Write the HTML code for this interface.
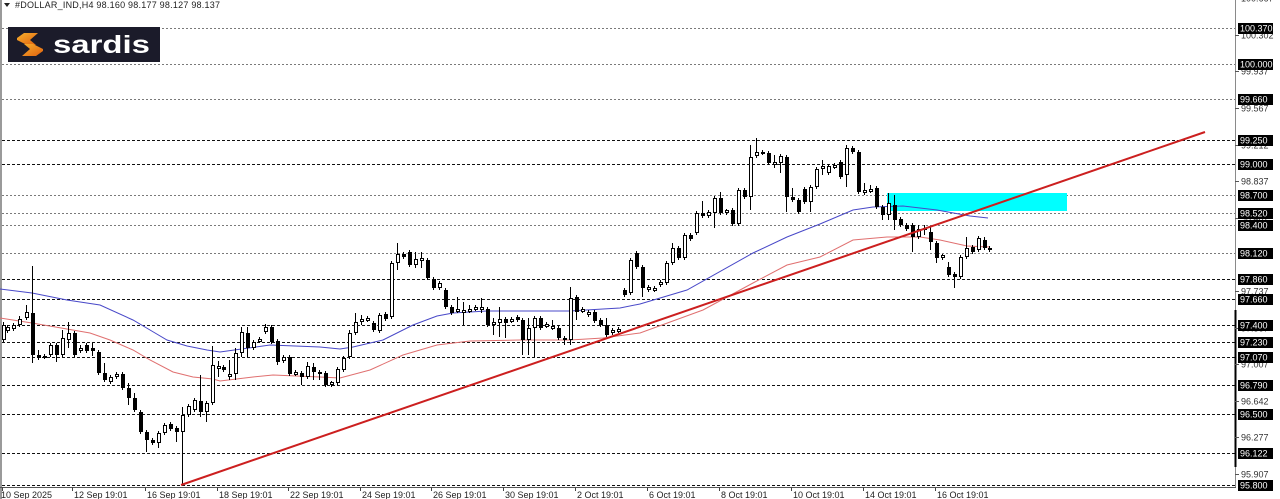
<!DOCTYPE html>
<html><head><meta charset="utf-8">
<style>
html,body{margin:0;padding:0;background:#fff;}
svg{display:block;}
text{font-family:"Liberation Sans",sans-serif;}
</style></head>
<body>
<svg id="c" xmlns="http://www.w3.org/2000/svg" width="1280" height="499" viewBox="0 0 1280 499">
<rect x="0" y="0" width="1280" height="499" fill="#fff"/>
<rect x="0" y="0" width="2" height="499" fill="#9a9a9a"/>
<g id="grid"></g>
<!-- cyan zone -->
<rect x="887" y="193" width="180" height="18" fill="#00ffff"/>
<!-- MAs -->
<polyline fill="none" stroke="#4848c8" stroke-width="1" points="0,289 32,293 67,300 100,305 133,320 150,330 167,340 187,346 207,350 220,352 270,345 320,347 340,349 353,347 383,340 413,325 437,316 453,313 487,311 520,311 570,311 603,309 620,308 640,304 687,290 753,253 787,237 820,224 853,210 873,207 903,206 937,210 970,216 988,218"/>
<polyline fill="none" stroke="#e07070" stroke-width="1" points="0,318 32,323 67,329 90,333 110,340 133,350 150,360 173,372 193,377 213,379 220,381 253,377 273,375 320,377 340,378 370,370 403,355 437,345 470,341 520,340 570,340 603,338 640,333 703,310 753,283 787,265 820,257 853,240 887,237 920,237 940,240 967,246 990,247"/>
<g id="candles" shape-rendering="crispEdges"></g>
<!-- trend line -->
<line x1="181" y1="485" x2="1205" y2="132" stroke="#cc1f1f" stroke-width="2"/>
<!-- axes -->
<line x1="1235.5" y1="0" x2="1235.5" y2="487" stroke="#8a8a8a" stroke-width="1"/>
<line x1="1235.5" y1="310" x2="1235.5" y2="467" stroke="#000" stroke-width="2"/>
<line x1="0" y1="487.5" x2="1236" y2="487.5" stroke="#555" stroke-width="1"/>
<g id="yax"></g>
<g id="xax"></g>
<!-- header -->
<polygon points="4,3 10,3 7,7" fill="#222"/>
<text x="15" y="8" font-size="9" fill="#222" textLength="205" lengthAdjust="spacing">#DOLLAR_IND,H4  98.160 98.177 98.127 98.137</text>
<!-- logo -->
<rect x="8" y="27" width="152" height="35" fill="#1b1b2a"/>
<defs>
<linearGradient id="og" x1="0" y1="0" x2="1" y2="1">
<stop offset="0" stop-color="#f7b12e"/><stop offset="1" stop-color="#e0600e"/>
</linearGradient>
</defs>
<polygon points="17,38 24,33 38,33 30,40 36,45 27,45 17,40" fill="url(#og)"/>
<polygon points="43,51 36,56 22,56 30,49 24,44 33,44 43,49" fill="url(#og)"/>
<text x="53" y="53" font-size="25" font-weight="bold" fill="#fff" textLength="97" lengthAdjust="spacingAndGlyphs">sardis</text>
</svg>
<script>
(function(){
var NS="http://www.w3.org/2000/svg";
function el(tag,attrs,parent,txt){var e=document.createElementNS(NS,tag);for(var k in attrs)e.setAttribute(k,attrs[k]);if(txt!==undefined)e.textContent=txt;parent.appendChild(e);return e;}
var grid=document.getElementById('grid');
var grey=[28,64,99,195,213,225,253];
var black=[140,164,279,299,325,342,357,385,414,453,485];
grey.forEach(function(y){el('line',{x1:2,y1:y+0.5,x2:1235,y2:y+0.5,stroke:'#7a7a7a','stroke-width':1,'stroke-dasharray':'2,2'},grid);});
black.forEach(function(y){el('line',{x1:2,y1:y+0.5,x2:1235,y2:y+0.5,stroke:'#111','stroke-width':1,'stroke-dasharray':'3,2'},grid);});

var C=[
[3,'w',325,340,322,342],[7,'w',327,331,325,333],[13,'w',325,329,323,331],[19,'w',319,325,316,327],[26,'w',312,318,305,320],
[32,'b',313,355,266,363],[38,'b',355,358,350,360],[44,'b',356,358,354,359],[50,'w',345,355,343,357],[56,'b',345,355,343,362],
[62,'w',338,355,330,357],[68,'w',333,340,322,348],[74,'b',333,355,331,357],[80,'w',348,351,345,353],[86,'b',345,351,343,353],
[92,'b',348,351,343,356],[98,'b',352,373,350,375],[104,'b',373,380,363,382],[110,'w',377,382,375,384],[116,'w',374,377,372,379],
[122,'b',374,388,372,390],[128,'b',388,398,383,405],[134,'b',398,410,393,412],[140,'b',412,432,410,434],[146,'b',432,440,430,452],
[152,'b',440,443,438,445],[158,'w',433,443,431,448],[164,'w',425,433,423,435],[170,'b',424,429,422,431],[176,'b',428,432,426,442],
[182,'w',415,432,407,485],[188,'w',406,415,404,417],[194,'w',400,410,398,412],[200,'b',401,412,375,417],[206,'w',403,412,401,422],
[212,'w',365,403,346,405],[218,'w',366,369,361,377],
[223,'b',367,370,365,372],[229,'w',374,377,360,380],[235,'w',353,374,348,380],[241,'w',332,353,327,357],[247,'b',333,348,327,357],
[253,'w',342,348,340,350],[259,'w',339,342,337,343],[265,'w',327,332,324,334],[271,'b',327,342,325,344],[277,'b',341,362,339,365],
[283,'w',357,361,355,363],[289,'b',357,374,355,376],[295,'w',372,375,370,376],[301,'b',373,377,371,385],[307,'w',366,377,362,379],
[313,'b',367,372,363,380],[319,'b',372,374,370,380],[325,'b',373,385,371,387],[331,'w',382,385,381,387],[337,'w',369,383,367,385],
[343,'w',358,370,356,372],[349,'w',333,357,330,359],[355,'w',322,333,313,335],[361,'w',319,322,315,325],[367,'w',318,321,316,322],
[373,'b',323,330,321,332],[379,'w',315,331,313,333],[385,'b',314,319,312,321],[391,'w',263,317,261,319],[397,'w',254,263,243,270],
[403,'b',254,257,252,259],[409,'b',252,265,250,267],[415,'w',259,265,252,268],[421,'w',258,261,252,268],[427,'b',260,278,258,280],
[433,'b',279,288,277,290],[439,'w',283,288,281,290],[445,'b',290,307,288,309],[451,'b',307,313,305,315],[457,'w',309,312,297,313],
[463,'w',310,313,302,325],[469,'w',309,312,305,313],[475,'w',307,310,305,311],[481,'w',307,310,298,313],[487,'b',309,325,307,327],
[493,'w',322,325,318,335],[499,'w',319,323,307,337],[505,'b',319,323,317,338],[511,'w',319,322,317,323],[517,'b',317,320,315,322],
[522,'b',320,340,318,355],[528,'w',328,340,318,355],[534,'w',318,328,316,357],[540,'b',318,328,316,330],[546,'w',324,327,322,328],
[552,'w',326,329,320,330],[558,'b',328,338,326,340],[564,'b',338,340,336,345],[570,'w',298,340,287,345],[576,'b',297,312,295,320],
[582,'w',309,312,307,313],[588,'w',312,315,310,317],[594,'b',312,321,310,323],[600,'b',320,325,318,327],[606,'b',325,335,318,337],
[612,'w',330,333,328,335],[618,'w',329,332,327,333],
[624,'b',290,295,288,297],[630,'w',260,293,258,295],[636,'b',253,267,251,269],[642,'b',267,288,265,297],[648,'w',287,290,285,292],
[654,'w',288,291,286,292],[660,'w',282,285,280,287],[666,'w',263,283,261,285],[672,'w',248,263,243,265],[678,'b',248,258,246,260],
[684,'w',235,258,233,260],[690,'b',235,239,233,241],[696,'w',213,233,211,235],[702,'b',213,216,201,218],[708,'w',212,216,210,218],
[714,'w',198,213,196,228],[720,'b',198,213,192,215],[726,'w',210,213,209,215],[732,'b',210,224,208,226],[738,'w',190,224,188,226],
[744,'b',190,197,188,199],[750,'w',157,197,145,210],[756,'w',152,156,138,158],[762,'b',152,154,150,155],[768,'b',153,163,151,165],
[774,'w',162,165,155,168],[780,'w',156,163,154,173],[786,'b',157,197,155,212],[792,'b',197,200,188,202],[798,'b',200,212,198,214],
[804,'b',189,202,187,204],[810,'w',187,202,185,212],[816,'w',169,187,167,189],[822,'w',166,169,160,175],[828,'w',166,173,164,175],
[834,'w',165,168,163,169],[840,'b',162,177,160,179],[846,'w',148,175,145,187],[852,'b',148,152,146,154],[858,'b',152,192,150,194],
[864,'w',190,193,183,195],[870,'w',189,192,185,193],[876,'b',188,207,186,209],[882,'b',207,215,205,220],[888,'w',203,215,193,220],
[894,'b',205,220,195,230],[900,'b',219,225,217,227],[906,'b',225,229,223,231],[912,'b',225,237,223,252],[918,'w',229,237,225,239],
[924,'b',228,230,225,235],[930,'b',232,242,227,250],[936,'b',243,258,241,263],[942,'w',255,258,254,260],[948,'b',267,275,262,277],
[954,'b',274,277,272,288],[960,'w',257,277,255,279],[966,'w',248,257,237,259],[972,'b',247,252,245,254],[978,'w',238,250,236,252],
[984,'b',240,248,237,250],[989,'b',248,250,246,252]
];
var g=document.getElementById('candles');
C.forEach(function(c){
  var x=c[0];
  el('rect',{x:x,y:c[4],width:1,height:Math.max(1,c[5]-c[4]),fill:'#000'},g);
  var h=Math.max(2,c[3]-c[2]);
  if(c[1]==='b'){
    el('rect',{x:x-1,y:c[2],width:4,height:h,fill:'#000'},g);
  }else{
    el('rect',{x:x-1,y:c[2],width:4,height:h,fill:'#000'},g);
    if(h>2) el('rect',{x:x,y:c[2]+1,width:2,height:h-2,fill:'#fff'},g);
  }
});

var yax=document.getElementById('yax');
var greyLbl=[[35,'100.302'],[71,'99.937'],[108,'99.567'],[145,'99.212'],[181,'98.837'],[218,'98.467'],[291,'97.737'],[328,'97.367'],[364,'97.007'],[401,'96.642'],[437,'96.277'],[474,'95.907'],[-2,'100.667']];
greyLbl.forEach(function(a){
  el('line',{x1:1235,y1:a[0]+0.5,x2:1239,y2:a[0]+0.5,stroke:'#555','stroke-width':1},yax);
  el('text',{x:1241,y:a[0]+3.5,'font-size':9,fill:'#333'},yax,a[1]);
});
var blk=[[28,'100.370'],[64,'100.000'],[99,'99.660'],[140,'99.250'],[164,'99.000'],[195,'98.700'],[213,'98.520'],[225,'98.400'],[253,'98.120'],[279,'97.860'],[299,'97.660'],[325,'97.400'],[342,'97.230'],[357,'97.070'],[385,'96.790'],[414,'96.500'],[453,'96.122'],[485,'95.800']];
blk.forEach(function(a){
  el('rect',{x:1238,y:a[0]-5,width:35,height:11,fill:'#000'},yax);
  el('text',{x:1240,y:a[0]+3.5,'font-size':9,fill:'#fff'},yax,a[1]);
});

var xax=document.getElementById('xax');
var xl=[[2,'10 Sep 2025'],[72,'12 Sep 19:01'],[145,'16 Sep 19:01'],[217,'18 Sep 19:01'],[288,'22 Sep 19:01'],[360,'24 Sep 19:01'],[431,'26 Sep 19:01'],[503,'30 Sep 19:01'],[575,'2 Oct 19:01'],[647,'6 Oct 19:01'],[719,'8 Oct 19:01'],[791,'10 Oct 19:01'],[863,'14 Oct 19:01'],[935,'16 Oct 19:01']];
xl.forEach(function(a){
  el('rect',{x:a[0],y:487,width:1,height:4,fill:'#444'},xax);
  el('text',{x:a[0]+(a[0]===2?-1:2),y:498,'font-size':9,fill:'#222'},xax,a[1]);
});
})();
</script>
</body></html>
